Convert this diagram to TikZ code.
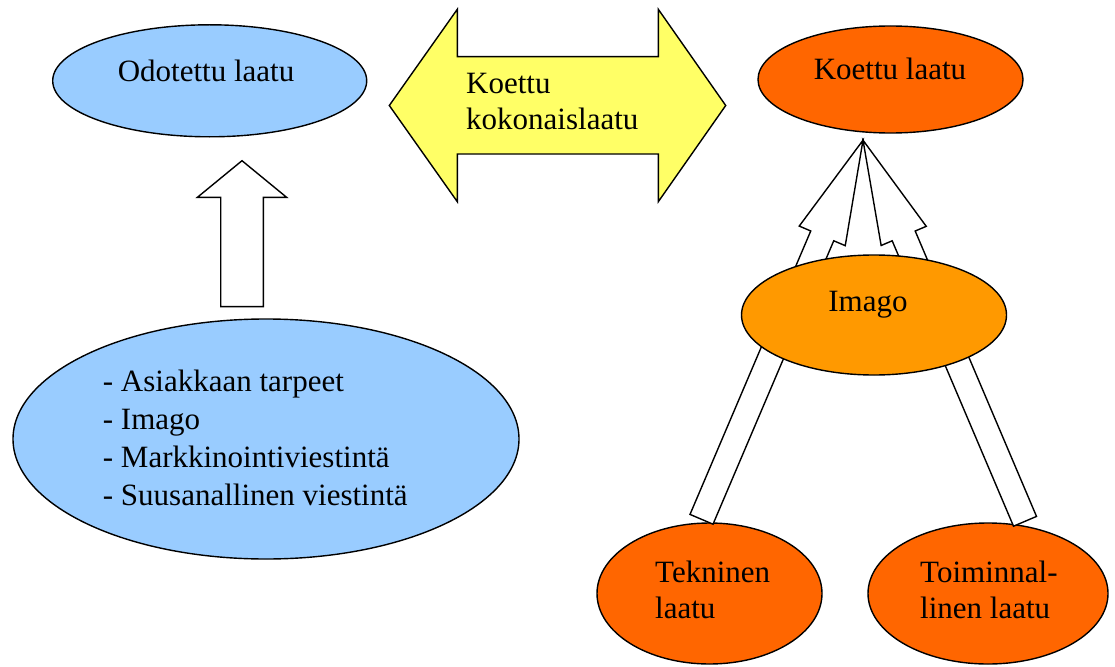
\documentclass[tikz,border=0pt]{standalone}
\usepackage{fontspec}
\setmainfont{Liberation Serif}
\usetikzlibrary{calc,shapes.geometric}
\definecolor{qblue}{RGB}{153,204,255}
\definecolor{qorange}{RGB}{255,102,0}
\definecolor{qamber}{RGB}{255,153,0}
\definecolor{qyellow}{RGB}{255,255,102}

\tikzset{
  oval/.style={draw, ellipse, line width=1.4pt, inner sep=0pt},
  txt/.style={font=\fontsize{31}{36}\selectfont, inner sep=0pt},
  blockarrow/.style={draw, fill=white, line width=1.4pt, line join=miter}
}

% tail, tip, shaft half width, head half width, head length
\newcommand{\blockarrow}[5]{%
  \coordinate (ba) at ($(#2)!#5!(#1)$);
  \filldraw[blockarrow] ($(#1)!#3!90:(#2)$) -- ($(ba)!#3!90:(#2)$) -- ($(ba)!#4!90:(#2)$)
    -- (#2) -- ($(ba)!#4!-90:(#2)$) -- ($(ba)!#3!-90:(#2)$) -- ($(#1)!#3!-90:(#2)$) -- cycle;
}

\begin{document}
\begin{tikzpicture}[x=1pt, y=-1pt]
\useasboundingbox (0,0) rectangle (1115,666);

% Koettu kokonaislaatu
\filldraw[fill=qyellow, line width=1.4pt] (389.3,105.5) -- (457.3,9.3) -- (457.3,56.7) -- (658.3,56.7)
  -- (658.3,9.3) -- (725.7,105.5) -- (658.3,201.7) -- (658.3,154) -- (457.3,154) -- (457.3,201.7) -- cycle;
\node[txt, align=left, anchor=base west] (koko) at (466,129.3) {Koettu\\kokonaislaatu};

% Odotettu laatu
\node[oval, fill=qblue, minimum width=314pt, minimum height=112pt] (odo) at (209.7,80.8) {};
\node[oval, fill=qblue, minimum width=506pt, minimum height=240pt] (needs) at (266,439) {};
\coordinate (odoTip) at ([xshift=32.3pt, yshift=-23.2pt]odo.south);
\coordinate (odoTail) at ([xshift=-24pt, yshift=11.7pt]needs.north);
\blockarrow{odoTail}{odoTip}{21.3pt}{44.7pt}{36.7pt}

% Koettu laatu
\node[oval, fill=qorange, minimum width=265pt, minimum height=107pt] (koettu) at (890.5,79.5) {};
\node[oval, fill=qorange, minimum width=225pt, minimum height=141pt] (tek) at (709.5,593.5) {};
\node[oval, fill=qorange, minimum width=240pt, minimum height=141pt] (toim) at (988,593.5) {};
\coordinate (tip) at ([xshift=-27.5pt, yshift=-6.5pt]koettu.south);
\coordinate (tekTail) at ([xshift=-8pt, yshift=3pt]tek.north);
\coordinate (toimTail) at ([xshift=37pt, yshift=1pt]toim.north);
\blockarrow{tekTail}{tip}{12.5pt}{25pt}{104pt}
\blockarrow{toimTail}{tip}{12.5pt}{24.5pt}{104pt}
\node[oval, fill=qamber, minimum width=265pt, minimum height=120pt] (imago) at (874,315) {};

% texts
\node[txt, anchor=base] (odoTxt) at (206,81.7) {Odotettu laatu};
\node[txt, anchor=base] (koettuTxt) at (890,80) {Koettu laatu};
\node[txt, anchor=base] (imagoTxt) at (868,311.7) {Imago};
\node[txt, align=left, anchor=base west, font=\fontsize{31}{38}\selectfont] (needsTxt) at (102.7,505)
  {- Asiakkaan tarpeet\\- Imago\\- Markkinointiviestintä\\- Suusanallinen viestintä};
\node[txt, align=left, anchor=base west] (tekTxt) at (655,618) {Tekninen\\laatu};
\node[txt, align=left, anchor=base west] (toimTxt) at (920,618) {Toiminnal-\\linen laatu};
\end{tikzpicture}
\end{document}
